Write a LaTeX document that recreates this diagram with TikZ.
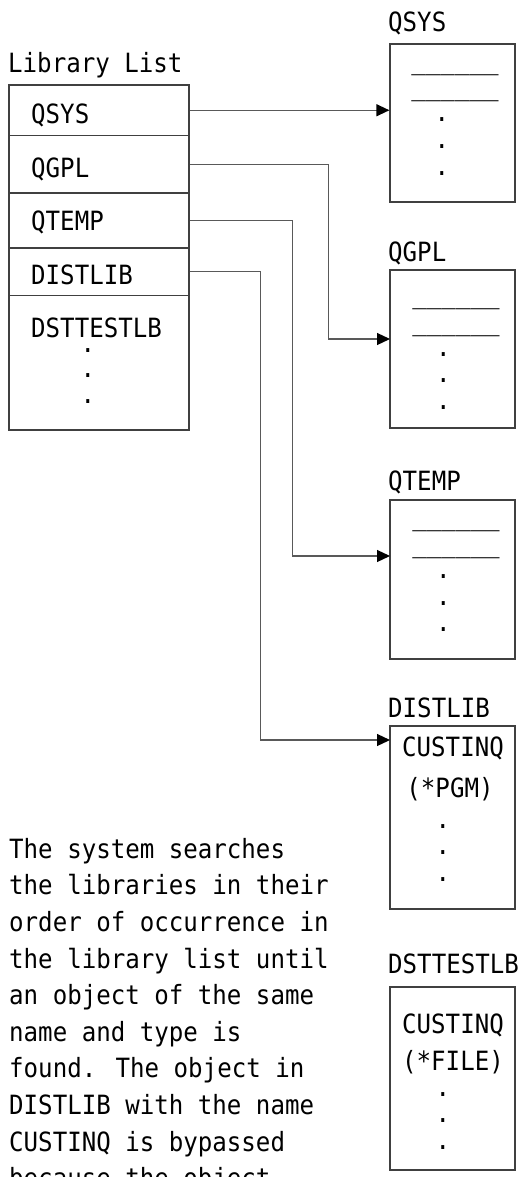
\documentclass[tikz,border=0pt]{standalone}
\usepackage{fontspec}
\setmainfont[FakeStretch=0.91]{DejaVu Sans Mono}
\usetikzlibrary{arrows.meta}

\begin{document}
\begin{tikzpicture}
[
x=1pt, y=-1pt,
every node/.style={font=\fontsize{26.5}{36.6}\selectfont, inner sep=0pt, text=black},
librow/.style={draw=black!75, line width=1.2pt, minimum width=180pt},
libbox/.style={draw=black!75, line width=1.2pt, minimum width=125pt},
libname/.style={anchor=base west},
objname/.style={anchor=base},
objline/.style={anchor=base},
objdot/.style={anchor=center},
search/.style={draw=black!65, line width=1.2pt, -{Triangle[length=13pt,width=12pt,black]}}
]
\useasboundingbox (0,0) rectangle (523,1177);

%Library list
\node[libname] at(8,72.5)		(llist) {Library List};
\node[librow, minimum height=50.5pt] at(99,110.25)	(rqsys) {};
\node[librow, minimum height=57.5pt] at(99,164.25)	(rqgpl) {};
\node[librow, minimum height=55pt] at(99,220.5)		(rqtemp) {};
\node[librow, minimum height=47.5pt] at(99,271.75)	(rdist) {};
\node[librow, minimum height=134.5pt] at(99,362.75)	(rtest) {};
\node[libname] at(31,124)		(lqsys) {QSYS};
\node[libname] at(31,178)		(lqgpl) {QGPL};
\node[libname] at(31,230)		(lqtemp) {QTEMP};
\node[libname] at(31,284)		(ldist) {DISTLIB};
\node[libname] at(31,337)		(ltest) {DSTTESTLB};
\node[objdot] at(88,350.5)		(ld1) {.};
\node[objdot] at(88,376)		(ld2) {.};
\node[objdot] at(88,402)		(ld3) {.};

%Libraries
\node[libname] at(388,32)		(tqsys) {QSYS};
\node[libbox, minimum height=158pt] at(452.5,123)	(bqsys) {};
\node[objline] at(455,69.5)		(uqsys1) {\_\_\_\_\_\_};
\node[objline] at(455,95.5)		(uqsys2) {\_\_\_\_\_\_};
\node[objdot] at(442,120)		(dqsys1) {.};
\node[objdot] at(442,147)		(dqsys2) {.};
\node[objdot] at(442,174)		(dqsys3) {.};

\node[libname] at(388,261)		(tqgpl) {QGPL};
\node[libbox, minimum height=158pt] at(452.5,349)	(bqgpl) {};
\node[objline] at(456,303.5)		(uqgpl1) {\_\_\_\_\_\_};
\node[objline] at(456,330.5)		(uqgpl2) {\_\_\_\_\_\_};
\node[objdot] at(443.5,355)		(dqgpl1) {.};
\node[objdot] at(443.5,381)		(dqgpl2) {.};
\node[objdot] at(443.5,408)		(dqgpl3) {.};

\node[libname] at(388,490)		(tqtemp) {QTEMP};
\node[libbox, minimum height=159pt] at(452.5,579.5)	(bqtemp) {};
\node[objline] at(456,525.5)		(uqtemp1) {\_\_\_\_\_\_};
\node[objline] at(456,552.5)		(uqtemp2) {\_\_\_\_\_\_};
\node[objdot] at(443.5,577)		(dqtemp1) {.};
\node[objdot] at(443.5,604)		(dqtemp2) {.};
\node[objdot] at(443.5,630)		(dqtemp3) {.};

\node[libname] at(388,717)		(tdist) {DISTLIB};
\node[libbox, minimum height=183pt] at(452.5,817.5)	(bdist) {};
\node[objname] at(453,756)		(odist1) {CUSTINQ};
\node[objname] at(450,797)		(odist2) {(*PGM)};
\node[objdot] at(443,827)		(ddist1) {.};
\node[objdot] at(443,853)		(ddist2) {.};
\node[objdot] at(443,880)		(ddist3) {.};

\node[libname] at(388,973)		(ttest) {DSTTESTLB};
\node[libbox, minimum height=183pt] at(452.5,1078.5)	(btest) {};
\node[objname] at(453,1033)		(otest1) {CUSTINQ};
\node[objname] at(453,1070)		(otest2) {(*FILE)};
\node[objdot] at(443,1095)		(dtest1) {.};
\node[objdot] at(443,1121)		(dtest2) {.};
\node[objdot] at(443,1148)		(dtest3) {.};

%Search order
\coordinate (aqgpl) at(390,339);
\coordinate (aqtemp) at(390,556);
\coordinate (adist) at(390,740);
\draw[search] (rqsys.east) -- (rqsys.east -| bqsys.west);
\draw[search] (rqgpl.east) -- ++(139,0) |- (aqgpl);
\draw[search] (rqtemp.east) -- ++(103,0) |- (aqtemp);
\draw[search] (rdist.east) -- ++(71,0) |- (adist);

%Note
\node[anchor=north west, align=left] at(9,838)	(note) {The system searches\\the libraries in their\\order of occurrence in\\the library list until\\an object of the same\\name and type is\\found. The object in\\DISTLIB with the name\\CUSTINQ is bypassed\\because the object};

\end{tikzpicture}
\end{document}
